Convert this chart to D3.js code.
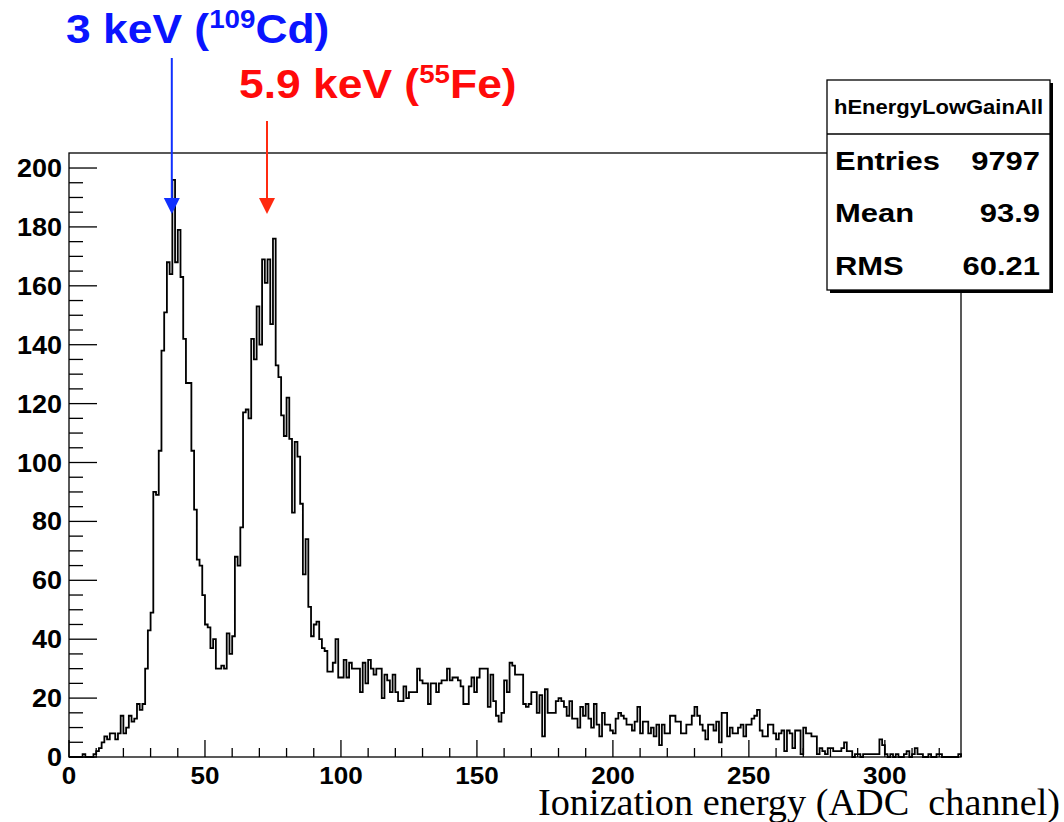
<!DOCTYPE html>
<html>
<head>
<meta charset="utf-8">
<script src="https://cdn.jsdelivr.net/npm/d3@7"></script>
<style>
  html, body { margin: 0; padding: 0; background: #fff; }
  svg { display: block; }
</style>
</head>
<body>
<svg id="chart" width="1064" height="822"></svg>
<script>
// Counts per ADC channel (bin width 1), channels 0..327
const channelCounts = [
  0,0,0,0,0,1,0,0,0,1,
  2,3,5,7,6,8,8,6,8,14,
  8,10,14,12,13,18,16,18,30,43,
  49,90,89,104,138,151,168,164,196,168,
  179,163,142,127,127,104,84,67,65,55,
  45,44,37,40,30,30,31,30,42,35,
  41,68,65,78,117,118,115,142,135,153,
  140,169,161,169,147,176,133,129,116,109,
  122,108,83,107,102,86,62,74,51,41,
  45,46,40,37,36,29,29,32,40,27,
  27,33,27,32,30,30,30,22,32,25,
  33,30,28,30,30,20,28,26,22,28,
  22,19,19,24,20,22,22,22,30,26,
  25,25,18,25,25,22,25,26,26,30,
  26,27,27,26,24,18,18,24,27,22,
  27,30,30,30,17,28,19,14,12,15,
  26,22,32,31,28,28,28,18,17,18,
  22,22,15,21,7,23,15,15,15,19,
  20,19,17,14,19,13,13,10,17,14,
  18,13,10,18,11,7,15,11,11,9,
  8,13,15,14,13,11,11,9,12,17,
  8,12,12,8,10,7,11,4,11,8,
  8,14,14,12,12,8,8,11,11,14,
  17,14,11,9,6,11,11,9,12,5,
  15,15,7,10,8,8,10,11,7,11,
  11,13,14,16,9,7,7,11,11,8,
  6,8,9,2,9,8,3,9,9,1,
  10,8,8,7,7,1,3,2,1,3,
  3,2,2,2,3,5,2,2,0,1,
  1,0,1,1,1,1,1,1,6,4,
  1,0,1,0,1,0,0,1,2,0,
  1,3,1,1,0,0,1,0,0,1,
  1,0,0,0,0,0,0,1
];

const xDomain = [0, 328];
const yDomain = [0, 205.1];
const xMajorTicks = [0, 50, 100, 150, 200, 250, 300];
const yMajorTicks = [0, 20, 40, 60, 80, 100, 120, 140, 160, 180, 200];
const xAxisTitle = "Ionization energy (ADC  channel)";

const histName = "hEnergyLowGainAll";
const statLabels = ["Entries", "Mean", "RMS"];
const statValues = ["9797", "93.9", "60.21"];

// Peak annotations: channel the arrow points at, label parts, colours
const peakMarks = [
  { channel: 37.8, main: "3 keV (", sup: "109", tail: "Cd)", color: "#0a14ff", arrow: "#1030ff" },
  { channel: 72.8, main: "5.9 keV (", sup: "55", tail: "Fe)", color: "#ff0a0a", arrow: "#ff2a10" }
];

const SANS = "'Liberation Sans', Arial, Helvetica, sans-serif";
const SERIF = "'Liberation Serif', 'Times New Roman', serif";

const svg = d3.select("#chart");
const frame = { left: 69, right: 961, top: 153, bottom: 757 };

const x = d3.scaleLinear().domain(xDomain).range([frame.left, frame.right]);
const y = d3.scaleLinear().domain(yDomain).range([frame.bottom, frame.top]);

// frame
svg.append("rect")
  .attr("x", frame.left).attr("y", frame.top)
  .attr("width", frame.right - frame.left).attr("height", frame.bottom - frame.top)
  .attr("fill", "none").attr("stroke", "#000").attr("stroke-width", 1.3);

// histogram outline as a step path
const stepPts = [[x(0), y(0)]];
channelCounts.forEach((c, i) => {
  stepPts.push([x(i), y(c)]);
  stepPts.push([x(i + 1), y(c)]);
});
stepPts.push([x(channelCounts.length), y(0)]);
svg.append("path")
  .attr("d", d3.line()(stepPts))
  .attr("fill", "none").attr("stroke", "#000").attr("stroke-width", 1.8)
  .attr("stroke-linejoin", "miter");

// y axis ticks: major every 20, minor every 5
const yMinor = d3.range(0, 205, 5);
svg.append("g").selectAll("line").data(yMinor).join("line")
  .attr("x1", frame.left).attr("x2", d => frame.left + (d % 20 === 0 ? 28 : 14))
  .attr("y1", d => y(d)).attr("y2", d => y(d))
  .attr("stroke", "#000").attr("stroke-width", 1.3);

svg.append("g").selectAll("text").data(yMajorTicks).join("text")
  .attr("x", 62).attr("y", d => y(d) + 9)
  .attr("text-anchor", "end")
  .style("font-family", SANS)
  .attr("font-size", 25).attr("font-weight", "bold")
  .attr("textLength", d => String(d).length * 15)
  .attr("lengthAdjust", "spacingAndGlyphs")
  .text(d => d);

// x axis ticks: major every 50, minor every 10
const xMinor = d3.range(0, 330, 10);
svg.append("g").selectAll("line").data(xMinor).join("line")
  .attr("x1", d => x(d)).attr("x2", d => x(d))
  .attr("y1", frame.bottom).attr("y2", d => frame.bottom - (d % 50 === 0 ? 17 : 9))
  .attr("stroke", "#000").attr("stroke-width", 1.3);

svg.append("g").selectAll("text").data(xMajorTicks).join("text")
  .attr("x", d => x(d)).attr("y", 784)
  .attr("text-anchor", "middle")
  .style("font-family", SANS)
  .attr("font-size", 24).attr("font-weight", "bold")
  .attr("textLength", d => String(d).length * 14.5)
  .attr("lengthAdjust", "spacingAndGlyphs")
  .text(d => d);

// axis title in a tall, narrow serif
svg.append("text")
  .attr("x", 1060).attr("y", 815)
  .attr("text-anchor", "end")
  .style("font-family", SERIF)
  .style("white-space", "pre")
  .attr("font-size", 37)
  .attr("textLength", 522).attr("lengthAdjust", "spacingAndGlyphs")
  .text(xAxisTitle);

// statistics box with shadow
const box = { x: 827, y: 80, w: 223, h: 210, split: 134 };
svg.append("rect").attr("x", box.x + 3).attr("y", box.y + 3)
  .attr("width", box.w).attr("height", box.h).attr("fill", "#000");
svg.append("rect").attr("x", box.x).attr("y", box.y)
  .attr("width", box.w).attr("height", box.h)
  .attr("fill", "#fff").attr("stroke", "#000").attr("stroke-width", 1.3);
svg.append("line").attr("x1", box.x).attr("x2", box.x + box.w)
  .attr("y1", box.split).attr("y2", box.split)
  .attr("stroke", "#000").attr("stroke-width", 1.3);
svg.append("text")
  .attr("x", box.x + box.w / 2).attr("y", 114)
  .attr("text-anchor", "middle")
  .style("font-family", SANS)
  .attr("font-size", 20).attr("font-weight", "bold")
  .attr("textLength", 209).attr("lengthAdjust", "spacingAndGlyphs")
  .text(histName);

// stats rows: the font is drawn slightly wide
const rowBase = [170, 222, 275];
const statStretch = 1.19;
statLabels.forEach((lab, i) => {
  svg.append("g").attr("transform", `translate(835,${rowBase[i]}) scale(${statStretch},1)`)
    .append("text")
    .style("font-family", SANS)
    .attr("font-size", 26).attr("font-weight", "bold")
    .text(lab);
  svg.append("g").attr("transform", `translate(1040,${rowBase[i]}) scale(${statStretch},1)`)
    .append("text")
    .attr("text-anchor", "end")
    .style("font-family", SANS)
    .attr("font-size", 26).attr("font-weight", "bold")
    .text(statValues[i]);
});

// peak labels and arrows
const labelPos = [{ x: 66, y: 43, lineTop: 58 }, { x: 239, y: 98, lineTop: 121 }];
const labelStretch = 1.11;
peakMarks.forEach((p, i) => {
  const lp = labelPos[i];
  const t = svg.append("g")
    .attr("transform", `translate(${lp.x},${lp.y}) scale(${labelStretch},1)`)
    .append("text")
    .style("font-family", SANS)
    .attr("font-size", 40).attr("font-weight", "bold").attr("fill", p.color);
  t.append("tspan").text(p.main);
  t.append("tspan").attr("font-size", 25).attr("dy", -15).text(p.sup);
  t.append("tspan").attr("dy", 15).text(p.tail);

  const ax = x(p.channel);
  const tipY = 214, headH = 16, headW = 8;
  svg.append("line").attr("x1", ax).attr("x2", ax)
    .attr("y1", lp.lineTop).attr("y2", tipY - headH + 1)
    .attr("stroke", p.arrow).attr("stroke-width", 2);
  svg.append("path")
    .attr("d", d3.line()([[ax - headW, tipY - headH], [ax + headW, tipY - headH], [ax, tipY]]) + "Z")
    .attr("fill", p.arrow);
});
</script>
</body>
</html>
